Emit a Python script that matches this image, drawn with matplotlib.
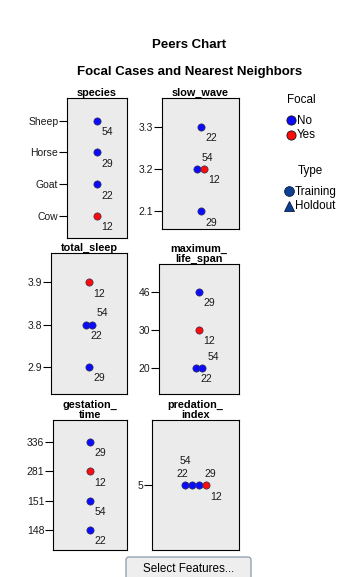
import numpy as np
import matplotlib
matplotlib.use('Agg')
import matplotlib.pyplot as plt
from matplotlib.patches import FancyBboxPatch
from matplotlib.colors import LinearSegmentedColormap

plt.rcParams['font.family'] = ['Liberation Sans', 'DejaVu Sans']

W, H = 351, 577

# the four cases drawn in every panel, 12 is the focal one
cases = [12, 22, 29, 54]
focal = [True, False, False, False]

# tick labels top to bottom, then each case's value
species_ticks = ['Sheep', 'Horse', 'Goat', 'Cow']
species_vals = ['Cow', 'Goat', 'Horse', 'Sheep']
slow_wave_ticks = ['3.3', '3.2', '2.1']
slow_wave_vals = ['3.2', '3.3', '2.1', '3.2']
total_sleep_ticks = ['3.9', '3.8', '2.9']
total_sleep_vals = ['3.9', '3.8', '2.9', '3.8']
life_span_ticks = ['46', '30', '20']
life_span_vals = ['30', '20', '46', '20']
gestation_ticks = ['336', '281', '151', '148']
gestation_vals = ['281', '148', '336', '151']
predation_ticks = ['5']
predation_vals = ['5', '5', '5', '5']

BLUE = '#0a0aff'
RED = '#ff0a0a'
NAVY = '#0d3f92'

# title, ticks, values, box in pixels (l, t, r, b), first/last tick pixel
panels = [
    ('species', species_ticks, species_vals, (67, 98, 127, 238), (120.7, 215.7)),
    ('slow_wave', slow_wave_ticks, slow_wave_vals, (162, 98, 239, 229), (126.7, 211)),
    ('total_sleep', total_sleep_ticks, total_sleep_vals, (51, 253, 127, 394), (282.3, 366.7)),
    ('maximum_\nlife_span', life_span_ticks, life_span_vals, (159, 264, 239, 394), (291.7, 367.7)),
    ('gestation_\ntime', gestation_ticks, gestation_vals, (53, 420, 127, 550), (442, 530)),
    ('predation_\nindex', predation_ticks, predation_vals, (152, 420, 239, 550), (485, 485)),
]

# left-to-right order of cases sharing a value (default: cases order)
stack_order = {'slow_wave': [22, 29, 54, 12], 'predation_\nindex': [22, 54, 29, 12]}
# label offsets in pixels (dx right, dy down); default below-right
label_default = (4.5, 11.5)
label_offsets = {
    'slow_wave': {54: (4, -10.5)},
    'total_sleep': {54: (4.7, -11.3)},
    'maximum_\nlife_span': {54: (5, -10.5)},
    'predation_\nindex': {22: (-9, -10.7), 54: (-12.4, -23.5), 29: (6, -10.7), 12: (4.3, 11.7)},
}
STEP = 6.7

fig = plt.figure(figsize=(W / 100, H / 100), dpi=100)

for title, ticks, vals, (l, t, r, b), (y0, y1) in panels:
    ax = fig.add_axes([l / W, 1 - b / H, (r - l) / W, (b - t) / H])
    n = len(ticks)
    s = (y1 - y0) / (n - 1) if n > 1 else 30.0
    ax.set_ylim((n - 1) + (b - y1) / s, -(y0 - t) / s)
    ax.set_xlim(0, r - l)
    ax.set_facecolor('#ebebeb')
    for sp in ax.spines.values():
        sp.set_linewidth(0.8)
        sp.set_color('black')
    ax.set_xticks([])
    ax.set_yticks(range(n))
    ax.set_yticklabels(ticks)
    ax.tick_params(axis='y', length=5.5, width=0.8, pad=0.8, labelsize=7.5,
                   labelcolor='#1a1a1a')
    ax.set_title(title, fontsize=7.8, fontweight='bold', pad=0.6, linespacing=0.95)

    order = stack_order.get(title, cases)
    for tick_i, tick in enumerate(ticks):
        group = [c for c in order if vals[cases.index(c)] == tick]
        k = len(group)
        for j, c in enumerate(group):
            x = (r - l) / 2 + (j - (k - 1) / 2) * STEP
            col = RED if focal[cases.index(c)] else BLUE
            ax.plot([x], [tick_i], 'o', ms=5.2, mfc=col, mec='#303050', mew=0.5,
                    zorder=3, clip_on=False)
            dx, dy = label_offsets.get(title, {}).get(c, label_default)
            ax.annotate(str(c), (x, tick_i), xytext=(dx, -dy), textcoords='offset pixels',
                        ha='left', va='center', fontsize=7.5, color='#1a1a1a')

# overlay in pixel coordinates for titles, legend and button
ov = fig.add_axes([0, 0, 1, 1], zorder=-1)
ov.axis('off')

ov.text(189, 45, 'Peers Chart', ha='center', va='center', fontsize=9.5, fontweight='bold')
ov.text(189.5, 72.5, 'Focal Cases and Nearest Neighbors', ha='center', va='center',
        fontsize=9.5, fontweight='bold')

ov.text(301.5, 100, 'Focal', ha='center', va='center', fontsize=8.4)
ov.plot([290.5], [120], 'o', ms=6.6, mfc=BLUE, mec='#111111', mew=0.6)
ov.text(296.5, 120.5, 'No', ha='left', va='center', fontsize=8.4)
ov.plot([290.5], [135], 'o', ms=6.6, mfc=RED, mec='#111111', mew=0.6)
ov.text(296.5, 135.5, 'Yes', ha='left', va='center', fontsize=8.4)

ov.text(310, 171, 'Type', ha='center', va='center', fontsize=8.4)
ov.plot([288.5], [191], 'o', ms=7, mfc=NAVY, mec='#0a1a3a', mew=0.6)
ov.text(294.5, 191.5, 'Training', ha='left', va='center', fontsize=8.4)
ov.plot([288.5], [205.5], '^', ms=6.6, mfc=NAVY, mec='#0a1a3a', mew=0.6)
ov.text(294.5, 206, 'Holdout', ha='left', va='center', fontsize=8.4)

btn = FancyBboxPatch((126, 557), 125, 26, boxstyle='round,pad=0,rounding_size=3',
                     fc='#eeeeee', ec='#8a9aab', lw=0.9, zorder=2)
ov.add_patch(btn)
grad = np.linspace(0, 1, 60)[:, None]
cmap = LinearSegmentedColormap.from_list('btn', ['#fdfdfd', '#dcdcdc'])
im = ov.imshow(grad, cmap=cmap, extent=(126, 251, 583, 557), aspect='auto', zorder=1)
im.set_clip_path(btn)
ov.text(189, 569.5, 'Select Features...', ha='center', va='center', fontsize=8.4, zorder=3)

ov.set_xlim(0, W)
ov.set_ylim(H, 0)

fig.savefig('out.png', dpi=100)
